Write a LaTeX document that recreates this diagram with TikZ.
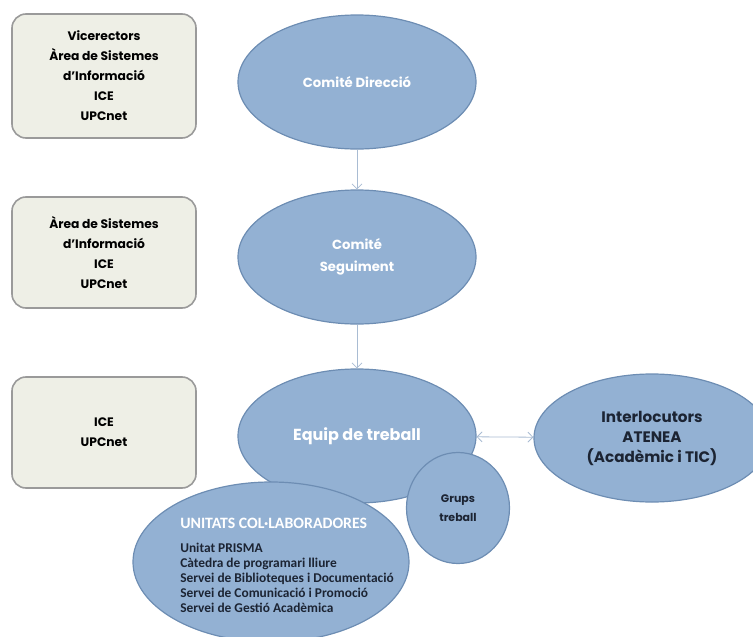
\documentclass[tikz,border=0pt]{standalone}
\usepackage{fontspec}
\setmainfont{Poppins}
\newfontfamily\listfont{Carlito}
\usetikzlibrary{shapes.geometric,arrows.meta,positioning}
\definecolor{BoxFill}{HTML}{EEEFE6}
\definecolor{BoxLine}{HTML}{9A9A9A}
\definecolor{BlueFill}{HTML}{93B1D3}
\definecolor{BlueLine}{HTML}{6D8DB3}
\definecolor{ArrowLine}{HTML}{A9BCD3}
\definecolor{DarkText}{HTML}{1C2433}

\begin{document}
\begin{tikzpicture}[x=1pt, y=-1pt,
  member/.style={rectangle, rounded corners=14pt, draw=BoxLine, line width=1.6pt, fill=BoxFill, minimum width=184pt, font=\fontsize{12.3}{20}\selectfont\bfseries, align=center},
  committee/.style={ellipse, draw=BlueLine, line width=1.2pt, fill=BlueFill, minimum width=238pt, minimum height=134pt, inner sep=0pt, align=center, font=\fontsize{13.2}{22}\selectfont\bfseries},
  flow/.style={-{Straight Barb[length=5pt, width=10pt]}, ArrowLine, line width=0.8pt},
  both/.style={{Straight Barb[length=5pt, width=10pt]}-{Straight Barb[length=5pt, width=10pt]}, ArrowLine, line width=0.8pt}
]
\clip (0,0) rectangle (753,637);
\useasboundingbox (0,0) rectangle (753,637);

% Members of each committee
\node[member, minimum height=124pt] (vicerectors) at (104,76) {Vicerectors\\Àrea de Sistemes\\d\symbol{39}Informació\\ICE\\UPCnet};
\node[member, minimum height=111pt] (area) at (104,252.5) {Àrea de Sistemes\\d\symbol{39}Informació\\ICE\\UPCnet};
\node[member, minimum height=111pt] (ice) at (104,432.5) {ICE\\UPCnet};

% Committees
\node[committee, text=white] (direccio) at (357,82) {Comité Direcció};
\node[committee, text=white] (seguiment) at (357,257) {Comité\\Seguiment};
\node[committee, text=white, font=\fontsize{16}{20}\selectfont\bfseries] (equip) at (357,436) {Equip de treball};
\node[committee, text=DarkText, minimum width=236pt, minimum height=128pt, font=\fontsize{15.2}{20}\selectfont\bfseries] (interlocutors) at (652,438) {Interlocutors\\ATENEA\\(Acadèmic i TIC)};

% Collaborating units
\node[committee, minimum width=276pt, minimum height=160pt] (unitats) at (271,562) {};
\node[align=left, inner sep=0pt, text=DarkText, font=\listfont\fontsize{13.4}{15}\selectfont\bfseries] (unitatstext) at (287,565)
  {\textcolor{white}{\fontsize{15.8}{15}\selectfont UNITATS COL·LABORADORES}\\[9pt]
   Unitat PRISMA\\Càtedra de programari lliure\\Servei de Biblioteques i Documentació\\Servei de Comunicació i Promoció\\Servei de Gestió Acadèmica};
\node[committee, text=DarkText, minimum width=103pt, minimum height=111pt, font=\fontsize{11}{19}\selectfont\bfseries] (grups) at (458,508) {Grups\\treball};

% Connectors
\draw[flow] (direccio) -- (seguiment);
\draw[flow] (seguiment) -- (equip);
\draw[both] (equip) -- (interlocutors);

\end{tikzpicture}
\end{document}
